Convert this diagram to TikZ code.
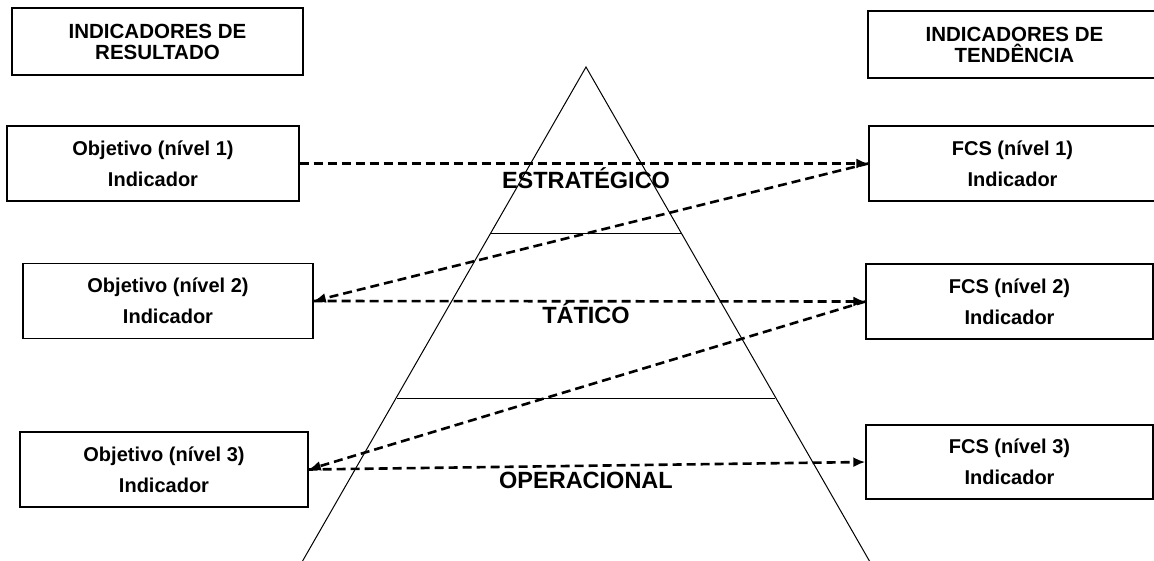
\documentclass[tikz,border=0pt]{standalone}
\usepackage{fontspec}
\setmainfont{Liberation Sans}
\usetikzlibrary{arrows.meta}

\begin{document}
\begin{tikzpicture}[x=1pt, y=-1pt,
    box/.style={draw, line width=1.4pt, minimum width=290pt, minimum height=75pt, inner sep=0pt, align=center, font=\bfseries\fontsize{20}{31}\selectfont},
    head/.style={draw, line width=2.8pt, minimum width=291pt, minimum height=67pt, inner sep=0pt, align=center, font=\bfseries\fontsize{20.5}{21}\selectfont},
    level/.style={anchor=base, font=\bfseries\fontsize{23.5}{24}\selectfont},
    link/.style={-{Latex[length=12pt,width=10pt]}, line width=2.6pt, dash pattern=on 9pt off 5pt}]
    \useasboundingbox (0, 0) rectangle (1154, 560);

    % pyramid
    \draw[line width=1pt] (302, 562) -- (586, 67) -- (870, 562);
    \draw[line width=1pt] (491, 233) -- (681, 233);
    \draw[line width=1pt] (397, 398) -- (775, 398);
    \node[level] (estr) at (586, 188) {ESTRATÉGICO};
    \node[level] (tat) at (586, 323) {TÁTICO};
    \node[level] (oper) at (586, 488) {OPERACIONAL};

    \node[head] (reshead) at (157.5, 41.5) {INDICADORES DE\\RESULTADO};
    \node[head, minimum width=293pt] (tendhead) at (1014.5, 44.5) {INDICADORES DE\\TENDÊNCIA};

    \node[box, minimum width=292pt] (obj1) at (153, 163.5) {Objetivo (nível 1)\\Indicador};
    \node[box] (obj2) at (168, 301) {Objetivo (nível 2)\\Indicador};
    \node[box, minimum width=288pt] (obj3) at (164, 469.5) {Objetivo (nível 3)\\Indicador};
    \node[box, minimum width=287pt] (fcs1) at (1012.5, 163.5) {FCS (nível 1)\\Indicador};
    \node[box, minimum width=287pt] (fcs2) at (1009.5, 301.5) {FCS (nível 2)\\Indicador};
    \node[box, minimum width=287pt, minimum height=74pt] (fcs3) at (1009.5, 462) {FCS (nível 3)\\Indicador};

    \draw[link] (obj1.east) -- (fcs1.west);
    \draw[link] (fcs1.west) -- (obj2.east);
    \draw[link] (obj2.east) -- (fcs2.west);
    \draw[link] (fcs2.west) -- (obj3.east);
    \draw[link] (obj3.east) -- (fcs3.west);
\end{tikzpicture}
\end{document}
